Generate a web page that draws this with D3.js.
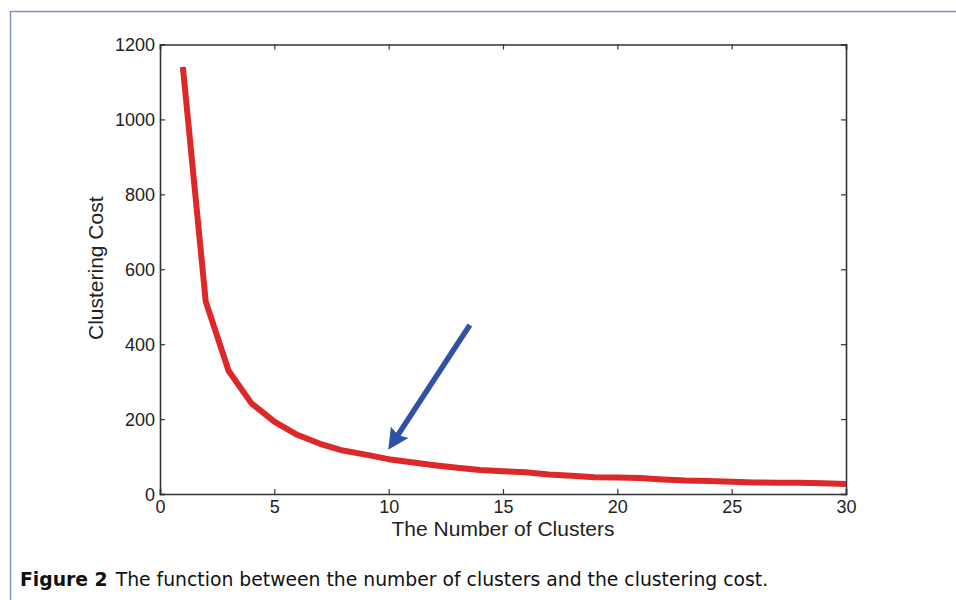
<!DOCTYPE html>
<html>
<head>
<meta charset="utf-8">
<script src="https://cdn.jsdelivr.net/npm/d3@7"></script>
<style>
  body { margin: 0; background: #fff; }
  svg { display: block; }
</style>
</head>
<body>
<div id="chart"></div>
<script>
// data
let clusters = d3.range(1, 31);
let cost = [1140, 514, 329, 242, 193, 158, 134, 116, 105, 93,
            85, 77, 70, 64, 61, 58, 52, 49, 45, 44,
            43, 39, 36, 35, 33, 31, 30, 30, 29, 27];
let xTicks = [0, 5, 10, 15, 20, 25, 30];
let yTicks = [0, 200, 400, 600, 800, 1000, 1200];
// arrow annotation, in data units: tail -> tip
let arrowFrom = [13.55, 451];
let arrowTo = [9.95, 115];

let width = 956, height = 600;
let margin = { top: 44.5, right: 110, bottom: 106, left: 160 },
	w = 846 - margin.left,
	h = 494 - margin.top;

let svg = d3.select("#chart")
	.append("svg")
	.attr("width", width)
	.attr("height", height);

// panel frame (cropped page)
svg.append("rect")
	.attr("x", 10.5).attr("y", 11.5)
	.attr("width", 960).attr("height", 600)
	.attr("fill", "none")
	.attr("stroke", "#7d98bb")
	.attr("stroke-width", 1.5);

let g = svg.append("g")
	.attr("transform", "translate(" + margin.left + "," + margin.top + ")");

let x = d3.scaleLinear().domain([0, 30]).range([0, w]);
let y = d3.scaleLinear().domain([0, 1200]).range([h, 0]);

let font = "'Liberation Sans', Arial, Helvetica, sans-serif";

// axes with inward ticks (box style)
let axB = g.append("g")
	.attr("transform", "translate(0," + h + ")")
	.call(d3.axisBottom(x).tickValues(xTicks).tickSize(-5).tickPadding(8).tickFormat(d3.format("d")));
let axL = g.append("g")
	.call(d3.axisLeft(y).tickValues(yTicks).tickSize(-5).tickPadding(5).tickFormat(d3.format("d")));
let axT = g.append("g")
	.call(d3.axisTop(x).tickValues(xTicks).tickSize(-5).tickFormat(""));
let axR = g.append("g")
	.attr("transform", "translate(" + w + ",0)")
	.call(d3.axisRight(y).tickValues(yTicks).tickSize(-5).tickFormat(""));

[axB, axL, axT, axR].forEach(function (a) {
	a.attr("font-size", null).attr("font-family", null);
	a.select(".domain").attr("stroke", "#333").attr("stroke-width", 1.6);
	a.selectAll(".tick line").attr("stroke", "#333").attr("stroke-width", 1.2);
	a.selectAll(".tick text")
		.attr("fill", "#222")
		.style("font-family", font)
		.style("font-size", "18px");
});
axB.selectAll(".tick text").attr("dy", "0.6em");
axL.selectAll(".tick text").attr("dy", "0.35em");

// axis titles
g.append("text")
	.attr("x", w / 2)
	.attr("y", h + 42)
	.attr("text-anchor", "middle")
	.attr("fill", "#222")
	.style("font-family", font)
	.style("font-size", "21px")
	.text("The Number of Clusters");

g.append("text")
	.attr("transform", "translate(" + (-57) + "," + (y(600) - 1) + ") rotate(-90)")
	.attr("text-anchor", "middle")
	.attr("fill", "#222")
	.style("font-family", font)
	.style("font-size", "21px")
	.text("Clustering Cost");

// the cost curve
let line = d3.line()
	.x(function (d, i) { return x(clusters[i]); })
	.y(function (d) { return y(d); });

g.append("path")
	.datum(cost)
	.attr("d", line)
	.attr("fill", "none")
	.attr("stroke", "#dc2828")
	.attr("stroke-width", 6)
	.attr("stroke-linejoin", "round");

// arrow pointing at the elbow
svg.append("defs").append("marker")
	.attr("id", "head")
	.attr("viewBox", "0 0 10 10")
	.attr("refX", 2).attr("refY", 5)
	.attr("markerWidth", 4.2).attr("markerHeight", 3.8)
	.attr("markerUnits", "strokeWidth")
	.attr("orient", "auto")
	.append("path")
	.attr("d", "M0,0 L10,5 L0,10 L1.5,5 z")
	.attr("fill", "#2f52a4");

let ax0 = x(arrowFrom[0]), ay0 = y(arrowFrom[1]);
let ax1 = x(arrowTo[0]), ay1 = y(arrowTo[1]);
let len = Math.hypot(ax1 - ax0, ay1 - ay0);
let shorten = 18;
g.append("line")
	.attr("x1", ax0).attr("y1", ay0)
	.attr("x2", ax1 - (ax1 - ax0) / len * shorten)
	.attr("y2", ay1 - (ay1 - ay0) / len * shorten)
	.attr("stroke", "#2f52a4")
	.attr("stroke-width", 5.5)
	.attr("marker-end", "url(#head)");

// caption
let cap = svg.append("text")
	.attr("x", 20)
	.attr("y", 586)
	.attr("fill", "#111")
	.style("font-family", "'DejaVu Sans', 'Noto Sans', sans-serif")
	.style("font-size", "18.8px");
cap.append("tspan").style("font-weight", "bold").text("Figure 2");
cap.append("tspan").attr("dx", 8).text("The function between the number of clusters and the clustering cost.");
</script>
</body>
</html>
